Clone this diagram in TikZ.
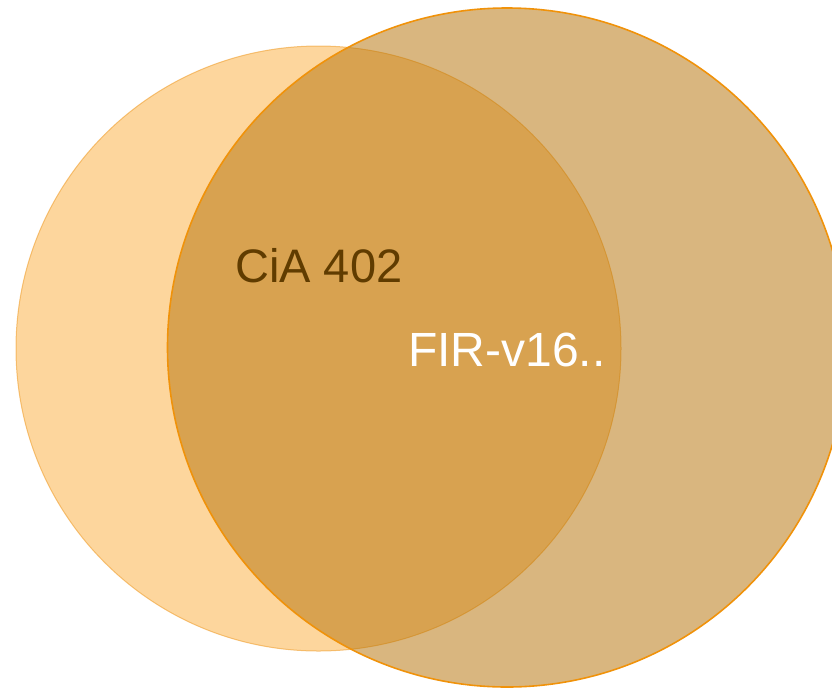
\documentclass[tikz,border=0pt]{standalone}
\usepackage{fontspec}
\setmainfont{Liberation Sans}
\definecolor{setA}{RGB}{253,214,157}
\definecolor{setAline}{RGB}{240,160,48}
\definecolor{setB}{RGB}{183,116,10}
\definecolor{setBline}{RGB}{240,146,10}
\definecolor{labdark}{RGB}{96,60,0}
\tikzset{
  vlabel/.style={anchor=base west, inner sep=0pt, font=\fontsize{47}{56}\selectfont},
}
\begin{document}
\begin{tikzpicture}[x=1pt, y=-1pt]
  \useasboundingbox (0,0) rectangle (832,689);
  \clip (0,0) rectangle (832,689);
  % first set
  \fill[setA] (318.5,348.5) circle[radius=302.5];
  \draw[setAline, draw opacity=0.6, line width=1pt] (318.5,348.5) circle[radius=302.5];
  % second set, translucent over the first
  \fill[setB, fill opacity=0.52] (507,347.5) circle[radius=339.5];
  \draw[setBline, line width=1.6pt] (507,347.5) circle[radius=339.5];
  % labels
  \node[vlabel, text=labdark] (cia) at (235,282) {CiA 402};
  \node[vlabel, text=white, font=\fontsize{48}{57}\selectfont] (fir) at (408,366) {FIR-v16..};
\end{tikzpicture}
\end{document}
